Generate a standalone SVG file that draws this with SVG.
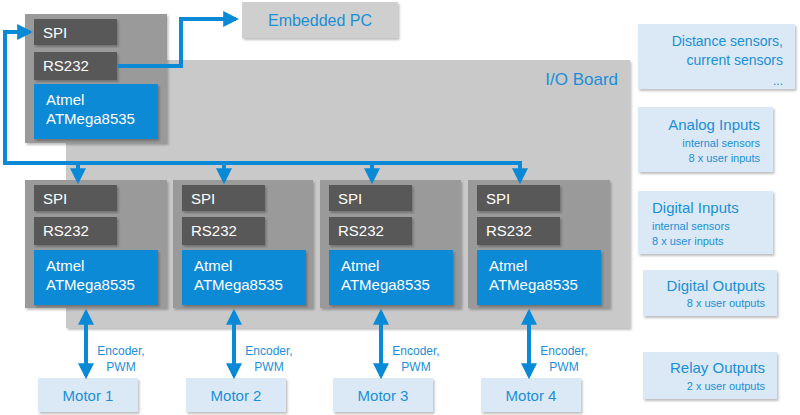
<svg xmlns="http://www.w3.org/2000/svg" width="800" height="415" viewBox="0 0 800 415">
<defs>
<marker id="ah" viewBox="0 0 10 10" refX="8" refY="5" markerWidth="4" markerHeight="4" orient="auto-start-reverse" markerUnits="strokeWidth"><path d="M0,0 L10,5 L0,10 z" fill="#0a8ad6"/></marker>
<filter id="sh" x="-5%" y="-5%" width="115%" height="115%"><feDropShadow dx="1.5" dy="2" stdDeviation="1" flood-color="#000" flood-opacity="0.25"/></filter>
</defs>
<style>
text{font-family:"Liberation Sans",Arial,sans-serif}
.outer{fill:#9a9a9a;filter:url(#sh)}
.dark{fill:#595959;filter:url(#sh)}
.blue{fill:#0a8ad6;filter:url(#sh)}
.lb{fill:#dbe9f6;filter:url(#sh)}
.w{fill:#fff;font-size:15px}
.bt{fill:#1a8fd8}
.con{stroke:#0a8ad6;stroke-width:4;fill:none}
</style>
<rect x="0" y="0" width="800" height="415" fill="#fff"/>
<g id="io-board"><rect x="66" y="60" width="564" height="268" fill="#c9c9c9" filter="url(#sh)"/><text x="618" y="85" class="bt" font-size="17" text-anchor="end">I/O Board</text></g>
<g id="embedded-pc"><rect x="242" y="2" width="156" height="36" fill="#cfcfcf" filter="url(#sh)"/><text x="320" y="26" class="bt" font-size="16" text-anchor="middle">Embedded PC</text></g>
<g id="main-ctrl"><rect class="outer" x="25" y="14" width="142" height="129"/>
<rect class="dark" x="34" y="19" width="83" height="26"/><text class="w" x="43" y="38">SPI</text>
<rect class="dark" x="34" y="52" width="83" height="28"/><text class="w" x="43" y="71">RS232</text>
<rect class="blue" x="34" y="84" width="124" height="55"/><text class="w" x="46" y="105">Atmel</text><text class="w" x="46" y="124">ATMega8535</text></g>
<g id="ctrl1"><rect class="outer" x="25" y="180" width="142" height="128"/>
<rect class="dark" x="34" y="185" width="83" height="26"/><text class="w" x="43" y="204">SPI</text>
<rect class="dark" x="34" y="217" width="83" height="28"/><text class="w" x="43" y="236">RS232</text>
<rect class="blue" x="34" y="250" width="124" height="55"/><text class="w" x="46" y="271">Atmel</text><text class="w" x="46" y="290">ATMega8535</text></g>
<g id="ctrl2"><rect class="outer" x="173" y="180" width="140" height="128"/>
<rect class="dark" x="182" y="185" width="83" height="26"/><text class="w" x="191" y="204">SPI</text>
<rect class="dark" x="182" y="217" width="83" height="28"/><text class="w" x="191" y="236">RS232</text>
<rect class="blue" x="182" y="250" width="124" height="55"/><text class="w" x="194" y="271">Atmel</text><text class="w" x="194" y="290">ATMega8535</text></g>
<g id="ctrl3"><rect class="outer" x="320" y="180" width="141" height="128"/>
<rect class="dark" x="329" y="185" width="83" height="26"/><text class="w" x="338" y="204">SPI</text>
<rect class="dark" x="329" y="217" width="83" height="28"/><text class="w" x="338" y="236">RS232</text>
<rect class="blue" x="329" y="250" width="124" height="55"/><text class="w" x="341" y="271">Atmel</text><text class="w" x="341" y="290">ATMega8535</text></g>
<g id="ctrl4"><rect class="outer" x="468" y="180" width="142" height="128"/>
<rect class="dark" x="477" y="185" width="83" height="26"/><text class="w" x="486" y="204">SPI</text>
<rect class="dark" x="477" y="217" width="83" height="28"/><text class="w" x="486" y="236">RS232</text>
<rect class="blue" x="477" y="250" width="124" height="55"/><text class="w" x="489" y="271">Atmel</text><text class="w" x="489" y="290">ATMega8535</text></g>
<g id="motors" font-size="15">
<rect class="lb" x="38" y="378" width="100" height="34"/><text class="bt" x="88" y="401" text-anchor="middle">Motor 1</text>
<rect class="lb" x="186" y="378" width="100" height="34"/><text class="bt" x="236" y="401" text-anchor="middle">Motor 2</text>
<rect class="lb" x="333" y="378" width="100" height="34"/><text class="bt" x="383" y="401" text-anchor="middle">Motor 3</text>
<rect class="lb" x="481" y="378" width="100" height="34"/><text class="bt" x="531" y="401" text-anchor="middle">Motor 4</text>
</g>
<g id="right-boxes">
<rect class="lb" x="638" y="24" width="157" height="65"/>
<text class="bt" font-size="14" text-anchor="end"><tspan x="783" y="46">Distance sensors,</tspan><tspan x="783" y="65">current  sensors</tspan><tspan x="783" y="85" font-size="12">...</tspan></text>
<rect class="lb" x="638" y="107" width="135" height="65"/>
<text class="bt" text-anchor="end"><tspan x="760" y="130" font-size="15">Analog Inputs</tspan><tspan x="760" y="147" font-size="11">internal sensors</tspan><tspan x="760" y="162" font-size="11">8 x user inputs</tspan></text>
<rect class="lb" x="638" y="191" width="135" height="63"/>
<text class="bt"><tspan x="652" y="213" font-size="15">Digital Inputs</tspan><tspan x="652" y="230" font-size="11">internal sensors</tspan><tspan x="652" y="245" font-size="11">8 x user inputs</tspan></text>
<rect class="lb" x="643" y="270" width="134" height="46"/>
<text class="bt" text-anchor="end"><tspan x="765" y="291" font-size="15">Digital Outputs</tspan><tspan x="765" y="307" font-size="11">8 x user outputs</tspan></text>
<rect class="lb" x="643" y="352" width="134" height="47"/>
<text class="bt" text-anchor="end"><tspan x="765" y="373" font-size="15">Relay Outputs</tspan><tspan x="765" y="390" font-size="11">2 x user outputs</tspan></text>
</g>
<g id="connectors">
<path class="con" d="M118,66 H181 V19 H236" marker-end="url(#ah)"/>
<path class="con" d="M522,163 H5 V32 H30" marker-end="url(#ah)"/>
<path class="con" d="M78,163 V181" marker-end="url(#ah)"/>
<path class="con" d="M224,163 V181" marker-end="url(#ah)"/>
<path class="con" d="M372,163 V181" marker-end="url(#ah)"/>
<path class="con" d="M520,161 V181" marker-end="url(#ah)"/>
<path class="con" d="M86,312 V376" marker-start="url(#ah)" marker-end="url(#ah)"/>
<path class="con" d="M234,312 V376" marker-start="url(#ah)" marker-end="url(#ah)"/>
<path class="con" d="M381,312 V376" marker-start="url(#ah)" marker-end="url(#ah)"/>
<path class="con" d="M529,312 V376" marker-start="url(#ah)" marker-end="url(#ah)"/>
</g>
<g id="labels" class="bt" font-size="12" text-anchor="middle">
<text x="121" y="355">Encoder,</text><text x="121" y="371">PWM</text>
<text x="269" y="355">Encoder,</text><text x="269" y="371">PWM</text>
<text x="416" y="355">Encoder,</text><text x="416" y="371">PWM</text>
<text x="564" y="355">Encoder,</text><text x="564" y="371">PWM</text>
</g>
</svg>
